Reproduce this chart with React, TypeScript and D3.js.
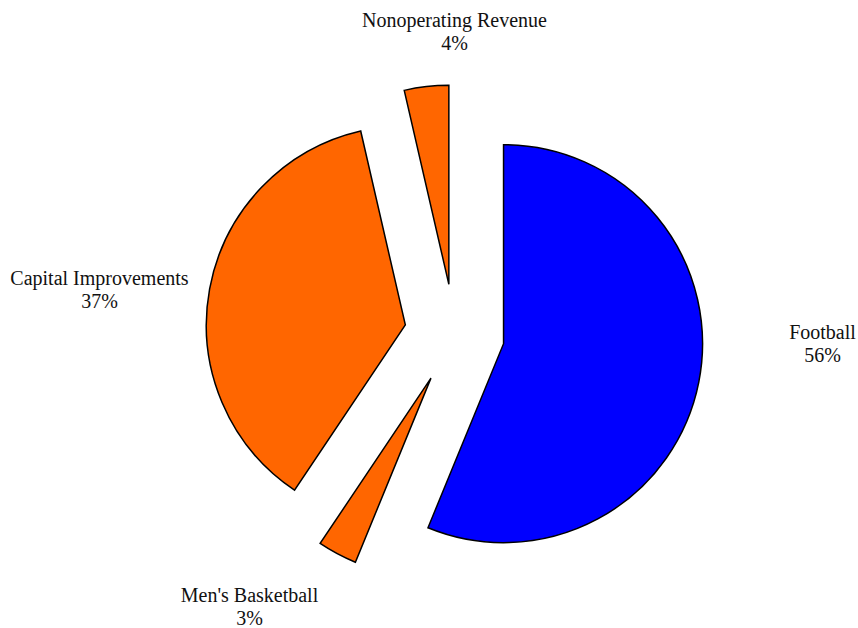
import React from "react";
import * as d3 from "d3";

const categories = ["Football", "Men's Basketball", "Capital Improvements", "Nonoperating Revenue"];
const values = [56.2, 3.2, 37.0, 3.6];
const percentLabels = ["56%", "3%", "37%", "4%"];
const colors = ["#0000FF", "#FF6600", "#FF6600", "#FF6600"];

const W = 858;
const H = 628;
const CX = 454.5;
const CY = 334;
const R = 199;
const EXPLODE = 50;
// label anchor offsets (relative to the pie centre) for first line baseline
const labelOffsets: [number, number][] = [
  [368, 5],
  [-205, 268],
  [-355, -49],
  [0, -307],
];

export default function App() {
  const pie = d3.pie<number>().sort(null).value((d) => d);
  const arcs = pie(values);
  const arcGen = d3.arc<d3.PieArcDatum<number>>().innerRadius(0).outerRadius(R);
  return (
    <svg
      width={W}
      height={H}
      style={{ position: "absolute", left: 0, top: 0, background: "#fff" }}
      fontFamily="'Liberation Serif', 'Times New Roman', serif"
    >
      {arcs.map((a, i) => {
        const mid = (a.startAngle + a.endAngle) / 2;
        const dx = EXPLODE * Math.sin(mid);
        const dy = -EXPLODE * Math.cos(mid);
        return (
          <path
            key={i}
            d={arcGen(a) || ""}
            transform={`translate(${CX + dx},${CY + dy})`}
            fill={colors[i]}
            stroke="#000"
            strokeWidth={1.5}
            strokeLinejoin="miter"
          />
        );
      })}
      {categories.map((c, i) => {
        const [ox, oy] = labelOffsets[i];
        return (
          <text key={c} x={CX + ox} y={CY + oy} textAnchor="middle" fontSize={20} fill="#111">
            <tspan x={CX + ox}>{c}</tspan>
            <tspan x={CX + ox} dy={22.5}>{percentLabels[i]}</tspan>
          </text>
        );
      })}
    </svg>
  );
}
